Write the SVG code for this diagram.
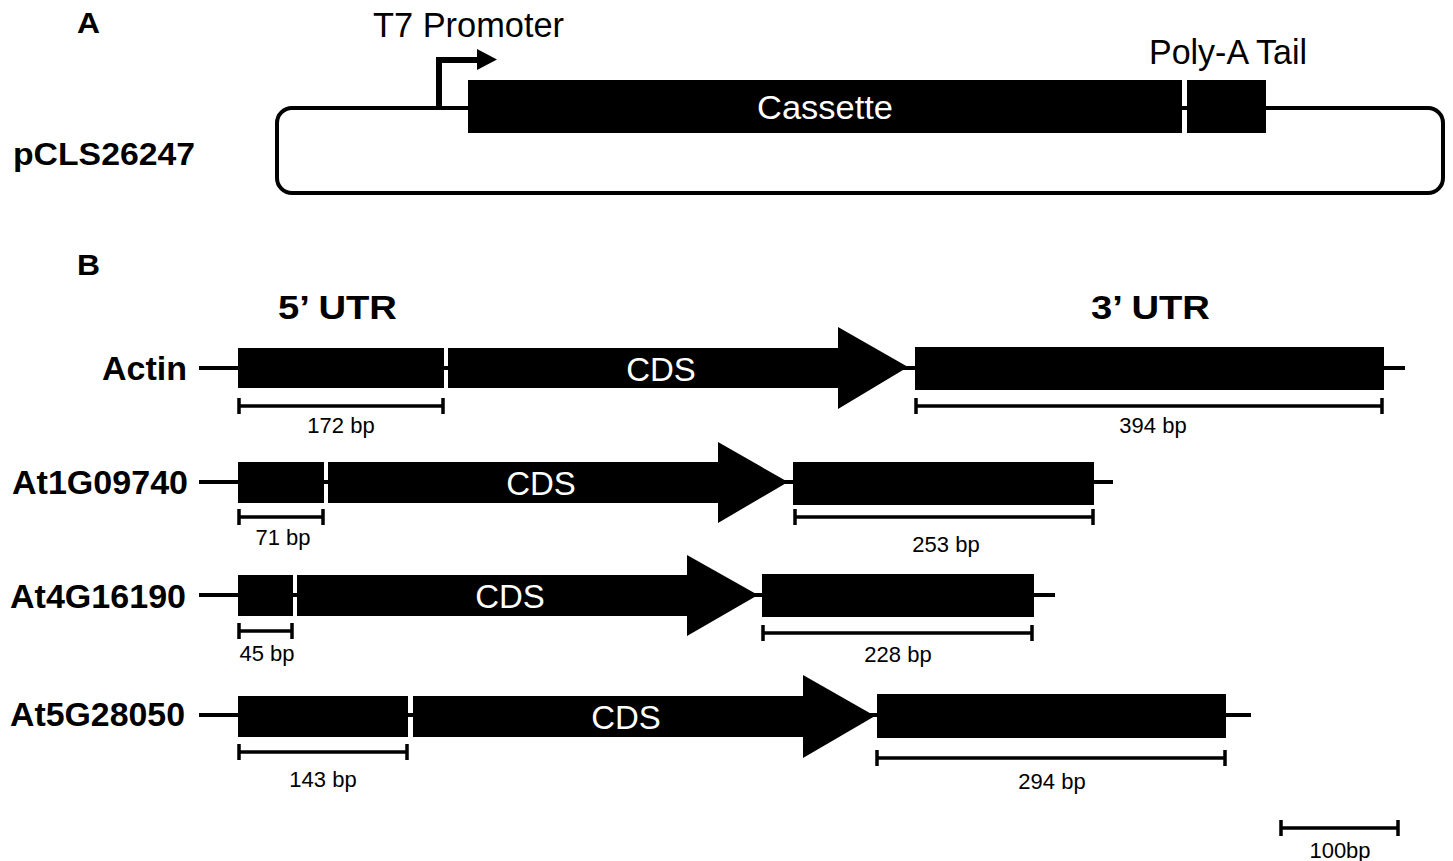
<svg xmlns="http://www.w3.org/2000/svg" width="1453" height="861" viewBox="0 0 1453 861">
<style>
.bl{font-family:"Liberation Sans",Arial,sans-serif;font-weight:bold;fill:#000}
.rg{font-family:"Liberation Sans",Arial,sans-serif;fill:#000}
.wt{font-family:"Liberation Sans",Arial,sans-serif;fill:#fff}
.bp{font-family:"Liberation Sans",Arial,sans-serif;fill:#000;font-size:22px;text-anchor:middle}
.ln{stroke:#000;stroke-width:4;fill:none}
.bar{stroke:#000;stroke-width:3.5;fill:none}
.blk{fill:#000}
</style>
<rect width="1453" height="861" fill="#fff"/>
<!-- Panel A -->
<g id="panelA">
<text class="bl" x="77" y="33" font-size="30" textLength="23" lengthAdjust="spacingAndGlyphs">A</text>
<text class="bl" x="13" y="165" font-size="31" textLength="182" lengthAdjust="spacingAndGlyphs">pCLS26247</text>
<rect class="ln" x="277" y="108" width="1166" height="85" rx="15"/>
</g>
<g id="promoter">
<path d="M439,108 V60 H479" stroke="#000" stroke-width="6" fill="none"/>
<polygon points="477,49 497,59.5 477,70" class="blk"/>
<text class="rg" x="373" y="37" font-size="35" textLength="191" lengthAdjust="spacingAndGlyphs">T7 Promoter</text>
</g>
<g id="cassette">
<rect class="blk" x="468" y="80" width="714" height="53"/>
<text class="wt" x="757" y="119" font-size="34" textLength="136" lengthAdjust="spacingAndGlyphs">Cassette</text>
</g>
<g id="polyA">
<rect class="blk" x="1187" y="80" width="79" height="53"/>
<text class="rg" x="1149" y="64" font-size="35" textLength="158" lengthAdjust="spacingAndGlyphs">Poly-A Tail</text>
</g>
<!-- Panel B -->
<g id="panelB">
<text class="bl" x="77" y="275" font-size="30" textLength="23" lengthAdjust="spacingAndGlyphs">B</text>
<text class="bl" x="278" y="319" font-size="33" textLength="119" lengthAdjust="spacingAndGlyphs">5’ UTR</text>
<text class="bl" x="1091" y="319" font-size="33" textLength="119" lengthAdjust="spacingAndGlyphs">3’ UTR</text>
</g>
<g id="actin">
<text class="bl" x="102" y="380" font-size="33" textLength="85" lengthAdjust="spacingAndGlyphs">Actin</text>
<line class="ln" x1="199" y1="368" x2="1405" y2="368"/>
<rect class="blk" x="238" y="348" width="206" height="40"/>
<polygon class="blk" points="448,348 838,348 838,327 908,367 838,409 838,388 448,388"/>
<rect class="blk" x="915" y="347" width="469" height="43"/>
<text class="wt" x="661" y="381" font-size="33" text-anchor="middle">CDS</text>
<path class="bar" d="M239,398 V414 M239,406 H443 M443,398 V414"/>
<text class="bp" x="341" y="433">172 bp</text>
<path class="bar" d="M916,398 V414 M916,406 H1382 M1382,398 V414"/>
<text class="bp" x="1153" y="433">394 bp</text>
</g>
<g id="at1g09740">
<text class="bl" x="12" y="494" font-size="33" textLength="176" lengthAdjust="spacingAndGlyphs">At1G09740</text>
<line class="ln" x1="199" y1="482" x2="1113" y2="482"/>
<rect class="blk" x="238" y="462" width="86" height="41"/>
<polygon class="blk" points="328,462 718,462 718,442 788,482 718,523 718,503 328,503"/>
<rect class="blk" x="793" y="462" width="301" height="43"/>
<text class="wt" x="541" y="495" font-size="33" text-anchor="middle">CDS</text>
<path class="bar" d="M239,509 V525 M239,517 H323 M323,509 V525"/>
<text class="bp" x="283" y="545">71 bp</text>
<path class="bar" d="M795,509 V525 M795,517 H1093 M1093,509 V525"/>
<text class="bp" x="946" y="552">253 bp</text>
</g>
<g id="at4g16190">
<text class="bl" x="10" y="608" font-size="33" textLength="176" lengthAdjust="spacingAndGlyphs">At4G16190</text>
<line class="ln" x1="199" y1="595" x2="1055" y2="595"/>
<rect class="blk" x="238" y="575" width="55" height="41"/>
<polygon class="blk" points="297,575 687,575 687,555 758,595 687,636 687,616 297,616"/>
<rect class="blk" x="762" y="574" width="272" height="43"/>
<text class="wt" x="510" y="608" font-size="33" text-anchor="middle">CDS</text>
<path class="bar" d="M239,623 V639 M239,631 H292 M292,623 V639"/>
<text class="bp" x="267" y="661">45 bp</text>
<path class="bar" d="M763,625 V641 M763,633 H1032 M1032,625 V641"/>
<text class="bp" x="898" y="662">228 bp</text>
</g>
<g id="at5g28050">
<text class="bl" x="10" y="726" font-size="33" textLength="175" lengthAdjust="spacingAndGlyphs">At5G28050</text>
<line class="ln" x1="199" y1="715" x2="1251" y2="715"/>
<rect class="blk" x="238" y="696" width="170" height="41"/>
<polygon class="blk" points="413,696 803,696 803,675 875,716 803,758 803,737 413,737"/>
<rect class="blk" x="877" y="694" width="349" height="44"/>
<text class="wt" x="626" y="729" font-size="33" text-anchor="middle">CDS</text>
<path class="bar" d="M239,744 V760 M239,752 H407 M407,744 V760"/>
<text class="bp" x="323" y="787">143 bp</text>
<path class="bar" d="M877,750 V766 M877,758 H1225 M1225,750 V766"/>
<text class="bp" x="1052" y="789">294 bp</text>
</g>
<g id="scalebar">
<path class="bar" d="M1281,820 V836 M1281,828 H1398 M1398,820 V836"/>
<text class="bp" x="1340" y="858">100bp</text>
</g>
</svg>
